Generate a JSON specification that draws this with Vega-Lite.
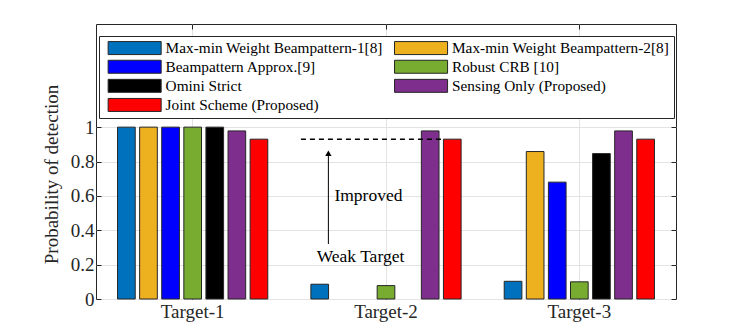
{
  "$schema": "https://vega.github.io/schema/vega-lite/v6.json",
  "autosize": {"type": "none"},
  "width": 580,
  "height": 275,
  "padding": {"left": 96, "top": 24, "right": 71, "bottom": 36},
  "background": "white",
  "config": {
    "view": {"stroke": "#262626", "strokeWidth": 1},
    "font": "Liberation Serif",
    "axis": {"labelFont": "Liberation Serif", "titleFont": "Liberation Serif", "labelColor": "#262626", "titleColor": "#262626", "tickColor": "#262626"},
    "legend": {"labelFont": "Liberation Serif", "labelFontSize": 15.3, "labelColor": "#000000"}
  },
  "datasets": {
    "bars": [
      {"target": "Target-1", "method": "Max-min Weight Beampattern-1[8]", "value": 1.0},
      {"target": "Target-1", "method": "Max-min Weight Beampattern-2[8]", "value": 1.0},
      {"target": "Target-1", "method": "Beampattern Approx.[9]", "value": 1.0},
      {"target": "Target-1", "method": "Robust CRB [10]", "value": 1.0},
      {"target": "Target-1", "method": "Omini Strict", "value": 1.0},
      {"target": "Target-1", "method": "Sensing Only (Proposed)", "value": 0.978},
      {"target": "Target-1", "method": "Joint Scheme (Proposed)", "value": 0.93},
      {"target": "Target-2", "method": "Max-min Weight Beampattern-1[8]", "value": 0.086},
      {"target": "Target-2", "method": "Max-min Weight Beampattern-2[8]", "value": 0.0},
      {"target": "Target-2", "method": "Beampattern Approx.[9]", "value": 0.0},
      {"target": "Target-2", "method": "Robust CRB [10]", "value": 0.078},
      {"target": "Target-2", "method": "Omini Strict", "value": 0.0},
      {"target": "Target-2", "method": "Sensing Only (Proposed)", "value": 0.978},
      {"target": "Target-2", "method": "Joint Scheme (Proposed)", "value": 0.93},
      {"target": "Target-3", "method": "Max-min Weight Beampattern-1[8]", "value": 0.103},
      {"target": "Target-3", "method": "Max-min Weight Beampattern-2[8]", "value": 0.858},
      {"target": "Target-3", "method": "Beampattern Approx.[9]", "value": 0.68},
      {"target": "Target-3", "method": "Robust CRB [10]", "value": 0.1},
      {"target": "Target-3", "method": "Omini Strict", "value": 0.846},
      {"target": "Target-3", "method": "Sensing Only (Proposed)", "value": 0.978},
      {"target": "Target-3", "method": "Joint Scheme (Proposed)", "value": 0.93}
    ]
  },
  "layer": [
    {
      "data": {"name": "bars"},
      "layer": [
        {
          "transform": [{"filter": "datum.value > 0"}],
          "mark": {"type": "bar", "stroke": "#262626", "strokeWidth": 1},
          "encoding": {
            "x": {
              "field": "target", "type": "nominal",
              "sort": ["Target-1", "Target-2", "Target-3"],
              "scale": {"domain": ["Target-1", "Target-2", "Target-3"], "paddingInner": 0, "paddingOuter": 0},
              "axis": {"orient": "bottom", "title": null, "labelAngle": 0, "labelFontSize": 19, "labelPadding": 8, "ticks": true, "tickSize": -5, "bandPosition": 0.5, "grid": true, "gridColor": "#e3e3e3", "domain": false}
            },
            "xOffset": {
              "field": "method", "type": "nominal",
              "sort": ["Max-min Weight Beampattern-1[8]", "Max-min Weight Beampattern-2[8]", "Beampattern Approx.[9]", "Robust CRB [10]", "Omini Strict", "Sensing Only (Proposed)", "Joint Scheme (Proposed)"],
              "scale": {"domain": ["Max-min Weight Beampattern-1[8]", "Max-min Weight Beampattern-2[8]", "Beampattern Approx.[9]", "Robust CRB [10]", "Omini Strict", "Sensing Only (Proposed)", "Joint Scheme (Proposed)"], "paddingInner": 0.2, "paddingOuter": 0.975}
            },
            "y": {
              "field": "value", "type": "quantitative",
              "scale": {"domain": [0, 1.6], "nice": false},
              "axis": {"orient": "left", "values": [0, 0.2, 0.4, 0.6, 0.8, 1], "format": "~g", "title": "Probability of detection", "titleFontSize": 19, "titleFontWeight": "normal", "titleAngle": -90, "titleX": -39, "titleY": 150, "titleAlign": "center", "titleBaseline": "alphabetic", "labelFontSize": 19, "labelPadding": 7, "tickSize": -5, "grid": true, "gridColor": "#e3e3e3", "domain": false}
            },
            "fill": {
              "field": "method", "type": "nominal",
              "scale": {
                "domain": ["Max-min Weight Beampattern-1[8]", "Max-min Weight Beampattern-2[8]", "Beampattern Approx.[9]", "Robust CRB [10]", "Omini Strict", "Sensing Only (Proposed)", "Joint Scheme (Proposed)"],
                "range": ["#0072BD", "#EDB120", "#0000FF", "#77AC30", "#000000", "#7E2F8E", "#FF0000"]
              },
              "legend": {
                "title": null, "orient": "none", "legendX": 3, "legendY": 12, "columns": 2, "direction": "horizontal",
                "symbolType": "M-4.08,-1H4.08V1H-4.08Z", "symbolSize": 169, "symbolOffset": 24, "symbolStrokeColor": "#262626", "symbolStrokeWidth": 1, "symbolOpacity": 1,
                "labelFontSize": 15.3, "labelFont": "Liberation Serif", "labelColor": "#000000", "labelOffset": 23.3, "labelLimit": 400,
                "rowPadding": 1.1, "columnPadding": 6.4, "padding": 4, "strokeColor": "#262626", "fillColor": "white"
              }
            }
          }
        },
        {
          "mark": {"type": "point", "opacity": 0},
          "encoding": {
            "x": {"field": "target", "type": "nominal", "sort": ["Target-1", "Target-2", "Target-3"], "axis": {"orient": "top", "labels": false, "title": null, "ticks": true, "tickSize": -5, "bandPosition": 0.5, "grid": false, "domain": false}},
            "y": {"field": "value", "type": "quantitative", "axis": {"orient": "right", "values": [0, 0.2, 0.4, 0.6, 0.8, 1], "labels": false, "title": null, "ticks": true, "tickSize": -5, "grid": false, "domain": false}}
          }
        }
      ],
      "resolve": {"axis": {"x": "independent", "y": "independent"}}
    },
    {
      "layer": [
        {
          "data": {"values": [{"x1": 1.56, "x2": 2.29, "y": 0.93}]},
          "mark": {"type": "rule", "strokeDash": [5, 4], "strokeWidth": 1.5, "color": "#000000"},
          "encoding": {
            "x": {"field": "x1", "type": "quantitative", "scale": {"domain": [0.5, 3.5], "nice": false, "zero": false}, "axis": null},
            "x2": {"field": "x2"},
            "y": {"field": "y", "type": "quantitative", "scale": {"domain": [0, 1.6], "nice": false}, "axis": null}
          }
        },
        {
          "data": {"values": [{"x": 1.702, "y1": 0.32, "y2": 0.845}]},
          "mark": {"type": "rule", "strokeWidth": 1, "color": "#000000"},
          "encoding": {
            "x": {"field": "x", "type": "quantitative", "axis": null},
            "y": {"field": "y1", "type": "quantitative", "axis": null},
            "y2": {"field": "y2"}
          }
        },
        {
          "data": {"values": [{"x": 1.702, "y": 0.848}]},
          "mark": {"type": "point", "shape": "triangle-up", "filled": true, "size": 40, "color": "#000000", "opacity": 1},
          "encoding": {
            "x": {"field": "x", "type": "quantitative", "axis": null},
            "y": {"field": "y", "type": "quantitative", "axis": null}
          }
        },
        {
          "data": {"values": [{"x": 1.909, "y": 0.598, "label": "Improved"}, {"x": 1.868, "y": 0.244, "label": "Weak Target"}]},
          "mark": {"type": "text", "font": "Liberation Serif", "fontSize": 17.5, "align": "center", "baseline": "middle", "color": "#000000"},
          "encoding": {
            "x": {"field": "x", "type": "quantitative", "axis": null},
            "y": {"field": "y", "type": "quantitative", "axis": null},
            "text": {"field": "label"}
          }
        }
      ]
    }
  ],
  "resolve": {"scale": {"x": "independent", "y": "independent", "fill": "independent"}}
}
